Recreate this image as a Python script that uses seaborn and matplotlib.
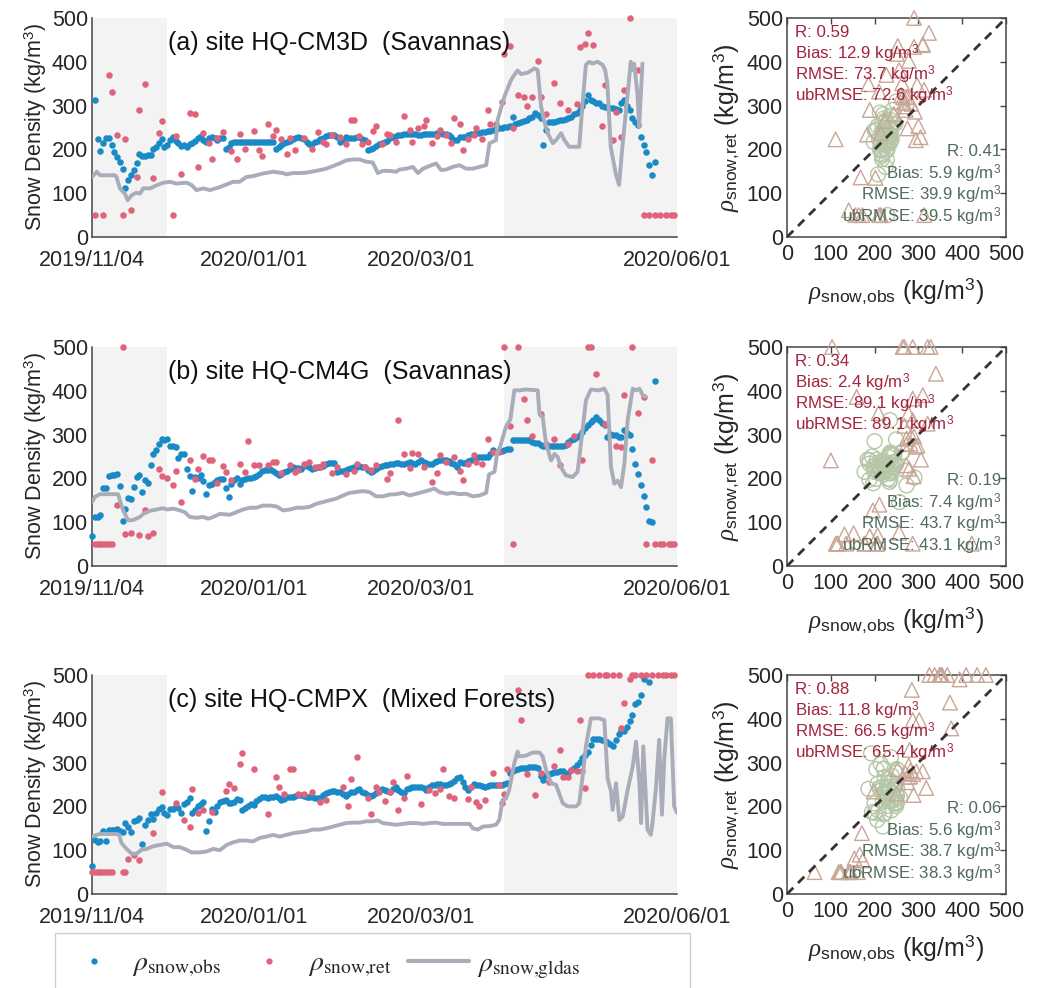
import numpy as np
import pandas as pd
import matplotlib
matplotlib.use("Agg")
import matplotlib.pyplot as plt
import seaborn as sns
from matplotlib.font_manager import FontProperties
from matplotlib.lines import Line2D
from matplotlib.patches import Rectangle

N = None

# ---------------- data ----------------
tick_days = [0, 58, 118, 210]
tick_labels = ["2019/11/04", "2020/01/01", "2020/03/01", "2020/06/01"]
shade_spans = [(0, 27), (148, 210)]
panel_titles = ["(a) site HQ-CM3D  (Savannas)",
                "(b) site HQ-CM4G  (Savannas)",
                "(c) site HQ-CMPX  (Mixed Forests)"]
stat_names = ["R", "Bias", "RMSE", "ubRMSE"]

# ---- panel a ----
obs_a_start = 1
obs_a = [313, 223, 197, 214, 225, 227, 210, 195, 183, 172,
         156, 111, 130, 141, 154, 168, 189, 185, 186, 187,
         187, 202, 206, 214, 223, 206, 210, 221, 229, 220,
         215, 208, 210, 205, 212, 215, 220, 225, 230, 222,
         218, 225, 228, 225, 222, 225, 226, 202, 205, 214,
         217, 217, 217, 217, 217, 217, 217, 217, 217, 217,
         217, 217, 217, 217, 217, 200, 205, 210, 214, 217,
         220, 223, 226, 229, 226, 223, 218, 212, 212, 216,
         219, 223, 227, 230, 233, 233, 233, 228, 218, 222,
         228, 227, 225, 226, 228, 229, 224, 221, 198, 200,
         203, 207, 212, 214, 217, 220, 225, 229, 231, 234,
         234, 235, 235, 236, 236, 235, 234, 233, 235, 236,
         236, 235, 236, 238, 237, 236, 236, 233, 229, 222,
         221, 229, 229, 229, 232, 236, 236, 237, 238, 239,
         240, 241, 243, 245, 247, 248, 249, 251, 252, 253,
         275, 259, 261, 263, 265, 268, 271, 275, 282, 278,
         271, 210, 244, 263, 263, 263, 265, 267, 268, 270,
         271, 275, 280, 284, 290, 298, 310, 324, 313, 310,
         307, 305, 300, 297, 296, 294, 294, 292, 290, 305,
         313, 300, 290, 271, 262, 256, 229, 210, 195, 164,
         142, 172]
ret_a_days = [1, 4, 6, 7, 9, 11, 12, 14, 16, 17,
              19, 22, 24, 25, 29, 30, 32, 35, 37, 38,
              40, 42, 43, 45, 47, 50, 52, 53, 55, 58,
              60, 61, 63, 65, 66, 68, 70, 71, 73, 76,
              79, 81, 83, 84, 86, 89, 91, 93, 94, 96,
              97, 99, 101, 102, 104, 106, 107, 109, 112, 114,
              115, 117, 119, 120, 122, 124, 125, 127, 129, 130,
              132, 133, 135, 137, 138, 140, 142, 143, 145, 147,
              148, 150, 151, 153, 155, 156, 158, 160, 161, 163,
              166, 168, 171, 174, 175, 177, 178, 180, 183, 184,
              187, 188, 190, 191, 193, 196, 198, 200, 202, 204,
              206, 208, 209]
ret_a_vals = [50, 50, 370, 332, 234, 50, 223, 61, 136, 290,
              349, 135, 237, 265, 50, 230, 143, 284, 280, 160,
              238, 215, 177, 225, 240, 197, 178, 235, 200, 242,
              198, 185, 259, 230, 244, 223, 189, 225, 198, 225,
              200, 239, 217, 212, 233, 229, 212, 266, 266, 230,
              212, 217, 242, 253, 212, 235, 233, 216, 276, 244,
              217, 248, 253, 267, 214, 230, 244, 233, 214, 271,
              258, 198, 223, 234, 248, 223, 290, 258, 259, 309,
              418, 436, 248, 324, 319, 298, 320, 402, 319, 281,
              351, 307, 290, 304, 434, 440, 466, 438, 253, 347,
              221, 286, 228, 336, 500, 381, 50, 50, 50, 50,
              50, 50, 50]
gldas_a_days = [0, 1.7, 2.9, 8.2, 8.8, 10, 11.8, 12.8, 14.2, 15.8,
                17.2, 18.4, 20.8, 23.2, 25.6, 28, 30.3, 33.9, 35.7, 37.5,
                39.9, 42.3, 45.9, 48.3, 50.7, 53, 55.4, 57.8, 61.4, 65,
                68.6, 69.8, 72.2, 74.6, 76.9, 80.5, 84.1, 86.5, 88.9, 91.3,
                93.7, 96.1, 98.4, 100.8, 102.6, 104.4, 106.8, 109.2, 110.4, 112.8,
                115.2, 117, 118.8, 121.1, 123.5, 125.3, 127.1, 129.5, 131.9, 134.3,
                136.7, 139.1, 141.5, 142.7, 145, 145.6, 148, 150.4, 151.6, 152.8,
                154, 156.4, 158.8, 160, 161.2, 162.4, 163.6, 165.4, 166.6, 168.4,
                169.6, 171.3, 174.9, 176.1, 177.3, 178.5, 179.7, 181.5, 183.3, 184.2,
                185, 186.2, 188, 189.2, 190.4, 192.2, 193.4, 194, 194.6, 195.8,
                196.4, 197, 197.6]
gldas_a_vals = [137, 149, 141, 141, 137, 111, 99, 84, 95, 101,
                99, 111, 111, 118, 124, 126, 122, 124, 119, 107,
                111, 107, 114, 120, 126, 126, 137, 139, 145, 149,
                146, 143, 146, 146, 147, 151, 156, 162, 168, 175,
                177, 177, 172, 170, 146, 151, 151, 149, 154, 156,
                160, 146, 156, 162, 168, 153, 154, 160, 164, 156,
                156, 160, 164, 214, 221, 267, 320, 358, 370, 380,
                372, 375, 385, 381, 298, 263, 237, 214, 221, 237,
                221, 206, 206, 305, 393, 400, 396, 400, 393, 381,
                351, 206, 145, 119, 206, 320, 400, 381, 396, 328,
                252, 324, 396]
stats_ret_a = [0.59, 12.9, 73.7, 72.6]
stats_stable_a = [0.41, 5.9, 39.9, 39.5]

# ---- panel b ----
obs_b_start = 0
obs_b = [68, 112, 112, 116, 177, 177, 205, 207, 207, 211,
         183, 103, 131, 156, 152, 180, 203, 207, 169, 196,
         189, 230, 256, 264, 279, 289, 288, 291, 273, 273,
         272, 247, 256, 256, 222, 205, 171, 203, 200, 207,
         194, 164, 184, 188, 192, 197, 199, 198, 177, 158,
         188, 196, 202, 188, 196, 199, 200, 201, 203, 205,
         211, 218, 219, 220, 222, 218, 212, 207, 210, 214,
         218, 222, 226, 224, 223, 222, 228, 232, 227, 222,
         224, 225, 226, 229, 232, 235, 235, 235, 215, 216,
         218, 220, 222, 224, 226, 227, 228, 227, 226, 220,
         215, 218, 222, 225, 228, 230, 231, 232, 234, 235,
         235, 234, 234, 236, 238, 236, 234, 238, 241, 238,
         235, 234, 234, 237, 239, 241, 242, 243, 240, 235,
         232, 226, 237, 236, 235, 239, 242, 245, 247, 249,
         249, 249, 249, 256, 264, 260, 262, 263, 264, 266,
         268, 287, 287, 287, 287, 287, 287, 287, 283, 281,
         280, 277, 275, 273, 275, 274, 273, 273, 273, 275,
         277, 282, 287, 290, 295, 300, 306, 314, 321, 328,
         334, 340, 333, 327, 321, 295, 302, 300, 298, 295,
         294, 310, 304, 298, 268, 234, 209, 184, 159, 135,
         102, 100, 422]
ret_b_days = [1, 2, 3, 4, 5, 6, 7, 9, 11, 12,
              14, 17, 19, 20, 22, 24, 25, 27, 29, 30,
              32, 35, 37, 38, 40, 42, 43, 45, 47, 48,
              50, 53, 55, 56, 58, 60, 63, 65, 66, 68,
              71, 73, 74, 76, 78, 80, 82, 83, 86, 88,
              91, 94, 95, 98, 100, 102, 106, 107, 110, 112,
              114, 115, 117, 119, 122, 124, 125, 127, 130, 132,
              133, 135, 137, 138, 140, 142, 144, 146, 148, 150,
              151, 153, 155, 156, 158, 161, 163, 166, 168, 171,
              173, 176, 178, 179, 181, 184, 188, 190, 191, 194,
              196, 198, 199, 201, 202, 204, 205, 207, 208, 209]
ret_b_vals = [51, 51, 51, 51, 51, 51, 51, 140, 500, 72,
              75, 70, 127, 68, 76, 222, 205, 202, 184, 217,
              146, 243, 199, 222, 250, 243, 241, 189, 228, 215,
              197, 234, 215, 285, 230, 230, 230, 237, 237, 212,
              230, 215, 219, 232, 237, 226, 227, 234, 212, 226,
              209, 218, 232, 226, 220, 230, 199, 212, 333, 256,
              224, 259, 255, 226, 192, 212, 253, 237, 249, 218,
              197, 232, 253, 237, 232, 289, 260, 260, 500, 320,
              51, 500, 382, 333, 296, 348, 278, 291, 230, 279,
              296, 243, 500, 500, 439, 325, 275, 272, 390, 500,
              349, 386, 51, 241, 51, 51, 51, 51, 51, 51]
gldas_b_days = [0, 1.1, 2.9, 9.4, 10, 11.2, 13, 14.8, 17.2, 18.4,
                20.8, 23.2, 25.6, 26.8, 29.2, 31.5, 33.3, 35.1, 37.5, 39.9,
                41.7, 43.5, 45.9, 49.5, 51.9, 54.2, 56.6, 59, 61.4, 63.8,
                66.2, 68.6, 71, 73.4, 75.7, 78.1, 80.5, 82.9, 85.3, 87.7,
                90.1, 92.5, 94.9, 97.3, 99.6, 102, 104.4, 106.8, 109.2, 111.6,
                114, 116.4, 118.8, 121.1, 122.9, 124.7, 127.1, 129.5, 131.9, 134.3,
                136.7, 139.1, 141.5, 142.5, 144.5, 145.5, 146.5, 148.6, 150.2, 151.6,
                153.4, 155.7, 160, 160.6, 161.8, 163, 164.8, 166, 167.2, 168.3,
                170.1, 172.5, 174.3, 176.1, 177.3, 179.1, 182.1, 183.9, 185.1, 186.3,
                187.5, 188.7, 189.9, 191.1, 192.3, 194.1, 195.3, 196.5, 197.7, 198.6]
gldas_b_vals = [146, 158, 164, 164, 150, 127, 104, 105, 112, 119,
                126, 129, 132, 129, 131, 127, 123, 112, 110, 112,
                108, 112, 119, 117, 123, 129, 133, 133, 138, 138,
                136, 127, 129, 133, 133, 135, 142, 146, 150, 154,
                161, 167, 169, 171, 169, 159, 159, 163, 164, 167,
                161, 165, 169, 173, 177, 169, 165, 167, 164, 165,
                159, 161, 167, 209, 215, 260, 272, 318, 335, 401,
                401, 403, 401, 348, 340, 279, 241, 256, 249, 226,
                207, 203, 215, 310, 378, 403, 401, 405, 390, 226,
                188, 195, 180, 234, 333, 405, 401, 405, 390, 386]
stats_ret_b = [0.34, 2.4, 89.1, 89.1]
stats_stable_b = [0.19, 7.4, 43.7, 43.1]

# ---- panel c ----
obs_c_start = 0
obs_c = [63, 124, 118, 122, 143, 122, 145, 145, 146, 148,
         143, 141, 162, 154, 141, 166, 169, 173, 115, 158,
         169, 183, 171, 185, 194, 198, 185, 181, 194, 195,
         200, 197, 185, 206, 211, 219, 186, 191, 200, 206,
         209, 143, 166, 194, 188, 200, 209, 212, 214, 207,
         207, 211, 217, 214, 192, 196, 201, 206, 204, 212,
         217, 221, 221, 220, 221, 222, 223, 219, 215, 218,
         221, 221, 221, 223, 225, 226, 223, 221, 222, 222,
         220, 219, 219, 225, 230, 233, 236, 235, 234, 234,
         228, 223, 228, 232, 234, 237, 239, 234, 230, 226,
         223, 227, 230, 235, 239, 237, 235, 234, 240, 245,
         238, 232, 230, 239, 242, 245, 245, 245, 245, 241,
         238, 244, 249, 250, 251, 252, 250, 249, 251, 253,
         258, 264, 267, 255, 245, 238, 245, 252, 250, 249,
         246, 244, 246, 248, 249, 249, 249, 250, 251, 253,
         276, 280, 284, 285, 287, 287, 288, 290, 291, 289,
         287, 270, 261, 272, 275, 277, 278, 279, 280, 281,
         270, 276, 282, 288, 295, 302, 310, 318, 325, 340,
         353, 355, 354, 352, 350, 348, 342, 337, 351, 366,
         375, 372, 382, 394, 409, 434, 439, 454, 490, N,
         485]
ret_c_days = [0, 1, 2, 3, 4, 5, 6, 7, 11, 12,
              13, 15, 17, 22, 25, 30, 33, 35, 36, 38,
              40, 43, 48, 49, 51, 53, 54, 58, 63, 66,
              67, 69, 71, 72, 74, 76, 79, 82, 84, 90,
              92, 93, 95, 99, 100, 102, 103, 105, 107, 108,
              110, 112, 113, 118, 121, 123, 125, 126, 128, 130,
              135, 136, 138, 139, 141, 144, 146, 147, 148, 149,
              153, 154, 156, 159, 161, 164, 166, 168, 169, 171,
              172, 174, 175, 176, 177, 178, 180, 182, 184, 185,
              187, 189, 190, 191, 193, 194, 195, 197, 199, 201,
              203, 205, 206, 208, 209]
ret_c_vals = [50, 50, 50, 50, 50, 50, 50, 50, 50, 50,
              81, 90, 77, 139, 234, 207, 169, 154, 240, 185,
              191, 187, 236, 252, 242, 297, 321, 285, 182, 267,
              245, 229, 286, 286, 228, 229, 232, 211, 214, 245,
              201, 262, 312, 220, 183, 245, 234, 213, 234, 255,
              191, 220, 270, 206, 238, 230, 239, 285, 224, 220,
              217, 245, 209, 201, 214, 277, 249, 207, 229, 285,
              466, 397, 274, 226, 276, 255, 293, 329, 268, 267,
              282, 280, 397, 280, 242, 500, 500, 500, 500, 500,
              500, 500, 378, 437, 490, 500, 500, 500, 500, 500,
              500, 500, 500, 500, 500]
gldas_c_days = [0, 1.7, 2.9, 8.8, 9.8, 10.6, 12.4, 14.2, 16, 17.8,
                19.6, 22, 24.4, 26.8, 29.2, 31.5, 33.9, 35.7, 38.7, 41.1,
                43.5, 45.9, 48.3, 50.7, 53, 55.4, 57.8, 60.2, 62.6, 65,
                67.4, 69.8, 72.2, 74.6, 76.9, 79.3, 81.7, 84.1, 86.5, 88.9,
                91.3, 93.7, 96.1, 98.4, 100.8, 102.6, 104.4, 106.8, 109.2, 111.6,
                114, 116.4, 118.8, 121.1, 123.5, 125.9, 128.3, 130.7, 133.1, 135.5,
                136.7, 138.5, 140.3, 142.7, 145, 146.2, 147.4, 148.6, 149.8, 151.6,
                152.8, 153.4, 155.8, 158.2, 160.6, 161.8, 163, 164.8, 166.6, 169,
                170.8, 173.7, 174.9, 176.1, 177.3, 179.1, 182.1, 183.9, 185.1, 186.3,
                186.9, 188.1, 189.3, 190.5, 192.3, 194.1, 195.3, 196.5, 197.1, 197.9,
                199.4, 200.6, 201.2, 202.4, 203.6, 204.6, 205.4, 206.6, 207.8, 209,
                210]
gldas_c_vals = [131, 135, 137, 137, 135, 116, 103, 92, 92, 101,
                103, 109, 112, 115, 107, 107, 101, 95, 95, 97,
                103, 100, 112, 118, 122, 122, 120, 128, 131, 135,
                131, 135, 139, 141, 143, 147, 147, 150, 154, 158,
                162, 163, 163, 166, 166, 168, 162, 160, 158, 160,
                162, 162, 160, 162, 163, 160, 160, 160, 160, 160,
                150, 147, 154, 155, 158, 169, 215, 218, 238, 299,
                325, 314, 316, 323, 323, 314, 283, 253, 249, 207,
                200, 200, 207, 268, 337, 401, 401, 397, 264, 234,
                192, 253, 169, 177, 238, 291, 348, 253, 162, 337,
                147, 135, 162, 238, 352, 181, 306, 401, 401, 200,
                185]
stats_ret_c = [0.88, 11.8, 66.5, 65.4]
stats_stable_c = [0.06, 5.6, 38.7, 38.3]

# ---------------- style ----------------
BLUE = "#1a8ac6"
PINK = "#e0637c"
GRAY = "#a9adb9"
SHADE = "#f3f3f3"
TRI = "#c9a696"
CIRC = "#b5c7a7"
RED_T = "#a3233d"
GRN_T = "#4f6b5c"
AXC = "#444444"
TXC = "#262626"

sns.set_theme(style="white")
plt.rcParams["font.family"] = ["Liberation Sans", "DejaVu Sans"]
plt.rcParams["mathtext.fontset"] = "custom"
plt.rcParams["mathtext.rm"] = "Liberation Sans"
plt.rcParams["mathtext.it"] = "Liberation Serif:italic"
plt.rcParams["mathtext.bf"] = "Liberation Sans:bold"

TICK_FS = 15.5

panels = [
    dict(obs=obs_a, start=obs_a_start, rd=ret_a_days, rv=ret_a_vals,
         gd=gldas_a_days, gv=gldas_a_vals, s1=stats_ret_a, s2=stats_stable_a),
    dict(obs=obs_b, start=obs_b_start, rd=ret_b_days, rv=ret_b_vals,
         gd=gldas_b_days, gv=gldas_b_vals, s1=stats_ret_b, s2=stats_stable_b),
    dict(obs=obs_c, start=obs_c_start, rd=ret_c_days, rv=ret_c_vals,
         gd=gldas_c_days, gv=gldas_c_vals, s1=stats_ret_c, s2=stats_stable_c),
]

W, H = 1038, 988
fig = plt.figure(figsize=(W / 100, H / 100), dpi=100)

row_bottoms_px = [237, 566, 894]
AX_H = 219


def fmt_stats(vals):
    out = []
    for name, v in zip(stat_names, vals):
        if name == "R":
            out.append(f"{name}: {v:.2f}")
        else:
            out.append(f"{name}: {v:.1f} kg/m$^3$")
    return out


def in_shade(d):
    return any(a <= d < b for a, b in shade_spans)


for i, p in enumerate(panels):
    bottom = 1 - row_bottoms_px[i] / H
    h = AX_H / H
    ax = fig.add_axes([92 / W, bottom, 585 / W, h])
    axs = fig.add_axes([787 / W, bottom, 219 / W, h])

    obs_vals = np.array(p["obs"], dtype=float)
    obs_days = np.arange(len(obs_vals)) + p["start"]
    df_obs = pd.DataFrame({"day": obs_days, "obs": obs_vals}).dropna()
    n = min(len(p["rd"]), len(p["rv"]))
    df_ret = pd.DataFrame({"day": p["rd"][:n], "ret": p["rv"][:n]})
    ng = min(len(p["gd"]), len(p["gv"]))
    df_gl = pd.DataFrame({"day": p["gd"][:ng], "gldas": p["gv"][:ng]})

    # ---- time series ----
    for a, b in shade_spans:
        ax.axvspan(a, b, color=SHADE, lw=0, zorder=0)
    sns.scatterplot(data=df_obs, x="day", y="obs", ax=ax, color=BLUE, s=22,
                    linewidth=0, zorder=3, clip_on=False)
    sns.scatterplot(data=df_ret, x="day", y="ret", ax=ax, color=PINK, s=22,
                    linewidth=0, zorder=3, clip_on=False)
    sns.lineplot(data=df_gl, x="day", y="gldas", ax=ax, color=GRAY, lw=2.8,
                 estimator=None, sort=False, zorder=4)
    ax.set_xlim(0, 210)
    ax.set_ylim(0, 500)
    ax.set_xticks(tick_days)
    ax.set_xticklabels(tick_labels)
    ax.set_yticks([0, 100, 200, 300, 400, 500])
    ax.set_xlabel("")
    ax.set_ylabel("Snow Density (kg/m$^3$)", fontsize=15.5, color=TXC, labelpad=2)
    ax.tick_params(direction="in", length=5, width=1.0, colors=AXC,
                   labelsize=TICK_FS, labelcolor=TXC, pad=3)
    ax.tick_params(axis="x", pad=9)
    for s in ["top", "right"]:
        ax.spines[s].set_visible(False)
    for s in ["left", "bottom"]:
        ax.spines[s].set_color(AXC)
        ax.spines[s].set_linewidth(1.1)
    ax.text(0.13, 0.886, panel_titles[i], transform=ax.transAxes,
            fontsize=18, va="center", ha="left", color="#111111", zorder=6)

    # ---- scatter ----
    df_pair = df_obs.merge(df_ret, on="day", how="inner")
    df_pair["shaded"] = df_pair["day"].apply(in_shade)
    stable = df_pair[~df_pair["shaded"]]
    trans = df_pair[df_pair["shaded"]]
    sns.scatterplot(data=stable, x="obs", y="ret", ax=axs, marker="o", s=115,
                    color=CIRC, facecolor="none", edgecolor=CIRC, linewidth=1.0,
                    zorder=2, clip_on=False)
    sns.scatterplot(data=trans, x="obs", y="ret", ax=axs, marker="^", s=110,
                    color=TRI, facecolor="none", edgecolor=TRI, linewidth=1.0,
                    zorder=3, clip_on=False)
    axs.plot([0, 500], [0, 500], color="#333333", lw=2.0,
             ls=(0, (3.2, 2.4)), zorder=4)
    axs.set_xlim(0, 500)
    axs.set_ylim(0, 500)
    axs.set_xticks([0, 100, 200, 300, 400, 500])
    axs.set_yticks([0, 100, 200, 300, 400, 500])
    axs.set_xlabel(r"$\rho_{\mathrm{snow{,}obs}}$ (kg/m$^3$)", fontsize=18,
                   color=TXC, labelpad=8)
    axs.set_ylabel(r"$\rho_{\mathrm{snow{,}ret}}$ (kg/m$^3$)", fontsize=18,
                   color=TXC, labelpad=4)
    axs.tick_params(direction="in", length=4, width=1.0, colors=AXC,
                    labelsize=TICK_FS, labelcolor=TXC, pad=3,
                    top=True, right=True)
    axs.tick_params(axis="x", pad=5)
    for s in axs.spines.values():
        s.set_visible(True)
        s.set_color(AXC)
        s.set_linewidth(1.1)

    red_y = [0.913, 0.81, 0.713, 0.617]
    grn_y = [0.37, 0.265, 0.166, 0.068]
    for t, y in zip(fmt_stats(p["s1"]), red_y):
        axs.text(0.037, y, t, transform=axs.transAxes, fontsize=12.2,
                 color=RED_T, ha="left", va="baseline", zorder=6)
    for t, y in zip(fmt_stats(p["s2"]), grn_y):
        axs.text(0.98, y, t, transform=axs.transAxes, fontsize=12.2,
                 color=GRN_T, ha="right", va="baseline", zorder=6)

# ---------------- legend ----------------
fig.patches.append(Rectangle((55 / W, -0.02), 635 / W, (988 - 933) / H + 0.02,
                             transform=fig.transFigure, fill=False,
                             edgecolor="#cfcfcf", lw=1.0))
handles = [
    Line2D([], [], marker="o", ls="", color=BLUE, markersize=4.5, markeredgewidth=0),
    Line2D([], [], marker="o", ls="", color=PINK, markersize=4.5, markeredgewidth=0),
    Line2D([], [], color=GRAY, lw=3.0),
]
labels = [r"$\rho_{\mathrm{snow{,}obs}}$", r"$\rho_{\mathrm{snow{,}ret}}$",
          r"$\rho_{\mathrm{snow{,}gldas}}$"]
lp = FontProperties(family="Liberation Serif", size=20, math_fontfamily="stix")
fig.legend(handles, labels, loc="center left", bbox_to_anchor=(63 / W, 1 - 966 / H),
           ncol=3, frameon=False, prop=lp, handlelength=2.2, handletextpad=0.3,
           columnspacing=0.6, borderpad=0, borderaxespad=0)

fig.savefig("out.png", dpi=100)
